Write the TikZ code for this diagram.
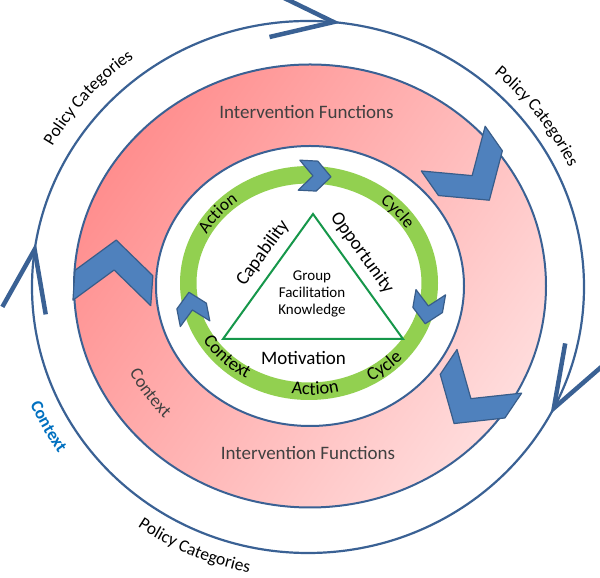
\documentclass[tikz,border=0pt]{standalone}
\usepackage{fontspec}
\setmainfont{Carlito}
\usetikzlibrary{arrows.meta,decorations.text,decorations.markings}
\definecolor{ringline}{HTML}{3A6194}
\definecolor{chevfill}{HTML}{4F81BD}
\definecolor{chevline}{HTML}{385D8A}
\definecolor{pinkdark}{HTML}{FF8E8E}
\definecolor{pinkmid}{HTML}{FFCACA}
\definecolor{pinklight}{HTML}{FFDCDC}
\definecolor{ringgreen}{HTML}{92D050}
\definecolor{trigreen}{HTML}{16974A}
\definecolor{ctxblue}{HTML}{0070C0}
\definecolor{ctxgray}{HTML}{404040}
\newcommand{\pcfont}{\fontsize{17.5}{19}\selectfont}
\newcommand{\ringfont}{\fontsize{17.5}{19}\selectfont}
\newcommand{\lowfont}{\fontsize{18.5}{20}\selectfont}
\tikzstyle{border}=[draw=ringline,line width=2pt]
\tikzstyle{chev}=[fill=chevfill,draw=chevline,line width=1.2pt,line join=round]
\tikzstyle{big}=[font=\fontsize{19}{21}\selectfont,text=ctxgray]
\tikzstyle{tri}=[font=\fontsize{19}{21}\selectfont]
\tikzstyle{inner}=[font=\fontsize{15}{17}\selectfont,align=center]
\tikzset{
	bigbarb/.tip={Straight Barb[length=62pt,width=44pt,line width=4.5pt]},
	outer/.style={draw=ringline,line width=2.2pt,postaction={decorate},decoration={markings,
		mark=at position 0.078 with {\arrow{bigbarb}},
		mark=at position 0.526 with {\arrow{bigbarb}},
		mark=at position 0.769 with {\arrow{bigbarb}}}},
	arctext/.style={decorate,decoration={text along path,text align=center,text format delimiters={|}{|},text={#1}}},
	bigchev/.pic={\draw[chev] (32,0) -- (-1,39) -- (-31,39) -- (2,0) -- (-31,-39) -- (-1,-39) -- cycle;},
	smallchev/.pic={\draw[chev] (16,0) -- (2,15) -- (-16,15) -- (-2,0) -- (-16,-15) -- (2,-15) -- cycle;},
}

\begin{document}
\begin{tikzpicture}[x=1pt,y=1pt]
	\useasboundingbox (0,0) rectangle (600,578);
	\coordinate (O) at (308,291);
	\coordinate (P) at (310,292);
	\coordinate (G) at (309,295);

	\draw[outer] (O) ++(0:276 and 266) arc[start angle=360,end angle=0,x radius=276,y radius=266];

	\shade[top color=pinkdark,middle color=pinkmid,bottom color=pinklight,shading angle=55] (P) ellipse[x radius=236,y radius=221.5];
	\draw[border] (P) ellipse[x radius=236,y radius=221.5];
	\draw[border,fill=white] (P) ellipse[x radius=154,y radius=140];
	\fill[ringgreen,even odd rule] (G) ellipse[x radius=129,y radius=117] (G) ellipse[x radius=112.5,y radius=99.5];

	\coordinate (peak) at (313,364);
	\coordinate (baseL) at (223,239);
	\coordinate (baseR) at (403,239);
	\draw[trigreen,line width=2pt] (peak) -- (baseL) -- (baseR) -- cycle;

	\pic[rotate=-55] at (471,404) {bigchev};
	\pic[rotate=-124] at (472,181) {bigchev};
	\pic[rotate=86] at (114,306) {bigchev};
	\pic[rotate=-3] at (315,402) {smallchev};
	\pic[rotate=-100] at (428,270) {smallchev};
	\pic[rotate=101] at (192,270) {smallchev};

	\path[arctext={|\pcfont|Policy Categories}] (O) ++(166:294 and 284) arc[start angle=166,end angle=111,x radius=294,y radius=284];
	\path[arctext={|\pcfont|Policy Categories}] (O) ++(65:289 and 279) arc[start angle=65,end angle=10,x radius=289,y radius=279];
	\path[arctext={|\pcfont|Policy Categories}] (O) ++(220:301 and 291) arc[start angle=220,end angle=274,x radius=301,y radius=291];
	\path[arctext={|\pcfont\bfseries|Context},decoration={text color=ctxblue}] (O) ++(190:303 and 293) arc[start angle=190,end angle=228,x radius=303,y radius=293];
	\path[arctext={|\fontsize{18}{20}\selectfont|Context},decoration={text color=ctxgray}] (P) ++(195:203 and 190) arc[start angle=195,end angle=236,x radius=203,y radius=190];

	\path[arctext={|\ringfont|Action}] (G) ++(163:116 and 103) arc[start angle=163,end angle=117,x radius=116,y radius=103];
	\path[arctext={|\ringfont|Cycle}] (G) ++(63:115 and 102) arc[start angle=63,end angle=20,x radius=115,y radius=102];
	\path[arctext={|\lowfont|Context}] (G) ++(198:124 and 111) arc[start angle=198,end angle=252,x radius=124,y radius=111];
	\path[arctext={|\lowfont|Action}] (G) ++(250:125 and 112) arc[start angle=250,end angle=296,x radius=125,y radius=112];
	\path[arctext={|\lowfont|Cycle}] (G) ++(288:126 and 113) arc[start angle=288,end angle=330,x radius=126,y radius=113];

	\node[big] (ifTop) at (306.5,465.5) {Intervention Functions};
	\node[big] (ifBot) at (308,124.5) {Intervention Functions};
	\node[tri,rotate=54] (cap) at (263,325) {Capability};
	\node[tri,rotate=-54] (opp) at (362,325) {Opportunity};
	\node[tri] (mot) at (303.5,219.5) {Motivation};
	\node[inner] (gfk) at (312,284) {Group\\Facilitation\\Knowledge};
\end{tikzpicture}
\end{document}
